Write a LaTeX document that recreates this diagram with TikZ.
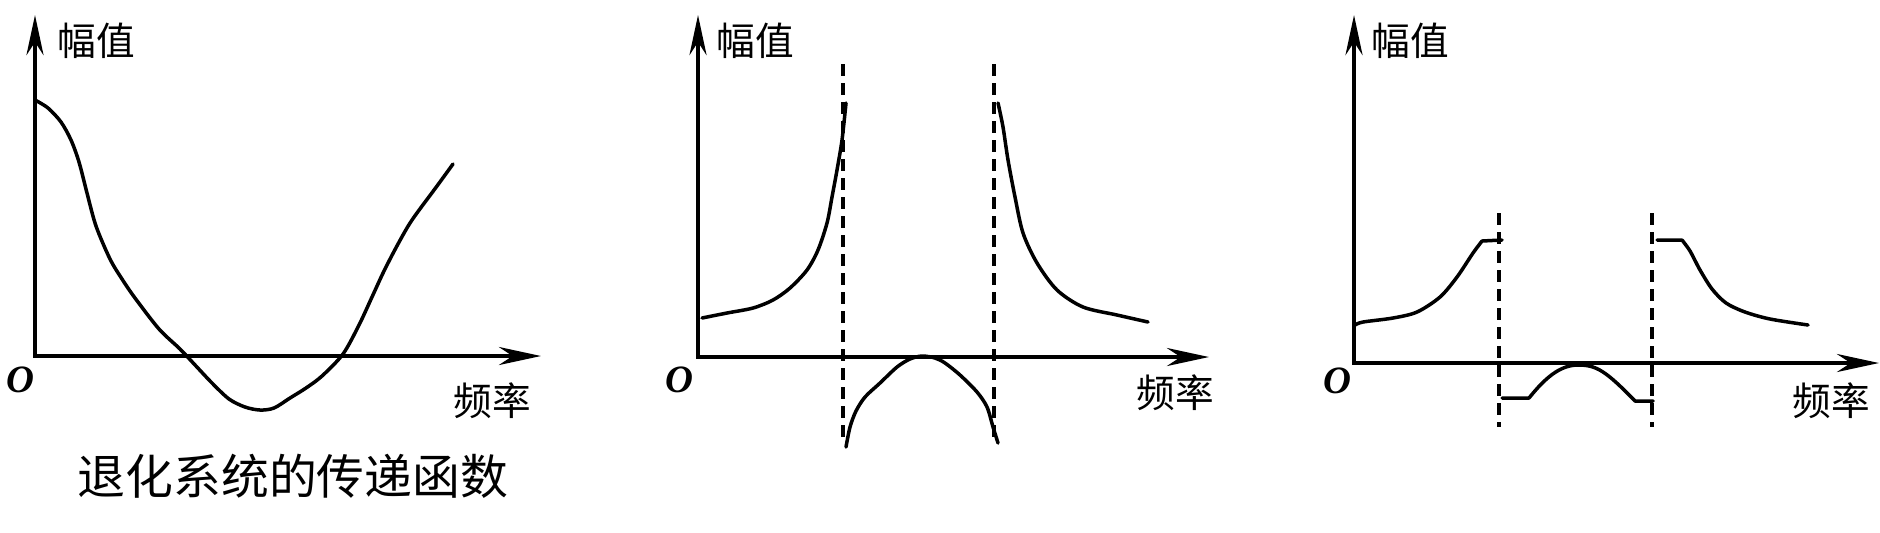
\documentclass[tikz,border=0pt]{standalone}
\usepackage{fontspec}
\setmainfont{Liberation Serif}
\newfontfamily\cjk{Noto Sans CJK SC}
\usetikzlibrary{arrows.meta}
\begin{document}
\begin{tikzpicture}[x=0.01cm,y=-0.01cm,
    axis/.style={line width=0.045cm,line join=miter,
      {Stealth[length=0.4cm,width=0.17cm]}-{Stealth[length=0.42cm,width=0.18cm]}},
    curve/.style={line width=0.035cm,line join=round,line cap=round},
    guide/.style={line width=0.033cm,dash pattern=on 0.12cm off 0.07cm},
    lbl/.style={font=\cjk\fontsize{11pt}{13pt}\selectfont,inner sep=0pt},
    orig/.style={font=\fontsize{11pt}{13pt}\selectfont\bfseries\itshape,inner sep=0pt}]
    \useasboundingbox (0,0) rectangle (1880,532);
    % panel 1: degradation transfer function
    \coordinate (O1) at (35,356);
    \coordinate (Y1) at (35,15);
    \coordinate (X1) at (541,356);
    \draw[axis] (Y1) -- (O1) -- (X1);
    \node[lbl] (amp1) at (96,41) {幅值};
    \node[orig] (o1) at (20,380) {O};
    \node[lbl] (frq1) at (492,401) {频率};
    \node[font=\cjk\fontsize{13.6pt}{16pt}\selectfont,inner sep=0pt] (cap1) at (293,476) {退化系统的传递函数};
    \draw[curve] plot[smooth] coordinates {(35,100) (48,108) (61,122) (71,140) (79,162)
      (87,193) (96,226) (110,259) (122,279) (135,298) (159,329) (180,349)
      (196,366) (212,383) (229,399) (245,407) (260,410) (274,408) (290,398) (306,388)
      (322,376) (343,354) (359,325) (372,297) (384,271) (398,244) (412,220) (437,186) (453,164)};
    % panel 2: inverse filter
    \coordinate (O2) at (698,357);
    \coordinate (Y2) at (698,15);
    \coordinate (X2) at (1209,357);
    \draw[axis] (Y2) -- (O2) -- (X2);
    \node[lbl] (amp2) at (755,41) {幅值};
    \node[orig] (o2) at (679,380) {O};
    \node[lbl] (frq2) at (1175,393) {频率};
    \draw[guide] (843,64) -- (843,437);
    \draw[guide] (994,64) -- (994,437);
    \draw[curve] plot[smooth] coordinates {(702,318) (727,313) (753,308) (773,300) (790,288)
      (807,270) (818,250) (827,223) (832,197) (837,170) (842,140) (846,103)};
    \draw[curve] plot[smooth] coordinates {(998,103) (1003,127) (1008,160) (1015,197) (1023,233)
      (1037,263) (1057,290) (1083,307) (1117,315) (1148,322)};
    \draw[curve] plot[smooth] coordinates {(846,447) (850,427) (856,411) (865,397) (880,383)
      (897,367) (910,359) (922,356) (935,358) (945,363) (960,375) (977,392) (987,407)
      (993,427) (998,443)};
    % panel 3: clipped inverse filter
    \coordinate (O3) at (1354,363);
    \coordinate (Y3) at (1354,15);
    \coordinate (X3) at (1879,363);
    \draw[axis] (Y3) -- (O3) -- (X3);
    \node[lbl] (amp3) at (1410,41) {幅值};
    \node[orig] (o3) at (1337,381) {O};
    \node[lbl] (frq3) at (1831,401) {频率};
    \draw[guide] (1499,213) -- (1499,427);
    \draw[guide] (1652,213) -- (1652,427);
    \draw[curve] plot[smooth] coordinates {(1355,325) (1363,322) (1393,318) (1417,312)
      (1440,297) (1457,277) (1473,253) (1482,241)} -- (1502,240);
    \draw[curve] (1657,240) -- (1682,240) plot[smooth] coordinates {(1682,240) (1690,251)
      (1700,270) (1712,289) (1726,303) (1745,312) (1770,319) (1808,325)};
    \draw[curve] (1502,398) -- (1529,398) .. controls (1545,378) and (1560,365) .. (1578,365)
      .. controls (1596,365) and (1605,370) .. (1635,401) -- (1653,401);
\end{tikzpicture}
\end{document}
